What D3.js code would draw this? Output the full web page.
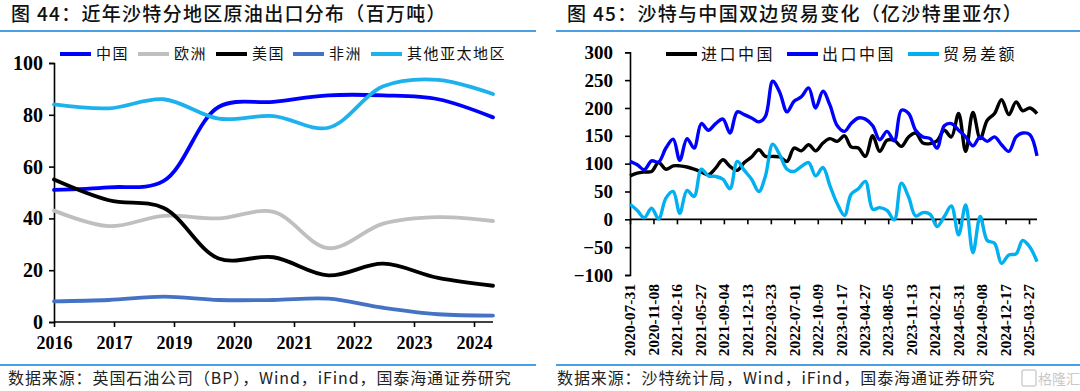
<!DOCTYPE html>
<html><head><meta charset="utf-8">
<script src="https://cdn.jsdelivr.net/npm/d3@7/dist/d3.min.js"></script>
<style>
html,body{margin:0;padding:0;background:#fff;}
svg{display:block;}
</style></head>
<body>
<svg id="c" width="1080" height="391"></svg>
<script>
// ---------- Left chart data ----------
const leftTitle = "图 44：近年沙特分地区原油出口分布（百万吨）";
const leftYears = ["2016","2017","2018","2019","2020","2021","2022","2023","2024"];
const leftTickLabels = ["2016","2017","2019","2020","2021","2022","2023","2024"];
const leftYTicks = [0,20,40,60,80,100];
const leftSeriesNames = ["中国","欧洲","美国","非洲","其他亚太地区"];
const chinaVals  = [51, 52, 54.5, 83, 85, 87.5, 87.5, 86, 79];
const europeVals = [43, 37, 41, 40, 42.5, 28.5, 38, 40.5, 39];
const usaVals    = [55, 47, 44, 24.5, 25, 18, 22.5, 17, 14];
const africaVals = [8, 8.5, 9.8, 8.5, 8.5, 9, 5.5, 3, 2.5];
const otherApacVals = [84, 82.5, 86, 78.5, 79.5, 75, 91, 93.5, 88];
const leftSource = "数据来源：英国石油公司（BP），Wind，iFind，国泰海通证券研究";

// ---------- Right chart data ----------
const rightTitle = "图 45：沙特与中国双边贸易变化（亿沙特里亚尔）";
const rightSeriesNames = ["进口中国","出口中国","贸易差额"];
const rightTickLabels = ["2020-07-31","2020-11-08","2021-02-16","2021-05-27","2021-09-04","2021-12-13",
  "2022-03-23","2022-07-01","2022-10-09","2023-01-17","2023-04-27","2023-08-05","2023-11-13",
  "2024-02-21","2024-05-31","2024-09-08","2024-12-17","2025-03-27"];
const rightYTicks = [-100,-50,0,50,100,150,200,250,300];
const rightStart = "2020-07-31";
const rightEnd = "2025-04-30";
const importChina = [78,83,85,86,102,90,96,96,94,90,85,80,92,107,95,88,102,112,125,113,113,112,104,128,123,134,123,137,145,140,150,130,128,113,150,122,142,142,131,148,155,137,136,141,160,148,190,122,192,145,178,190,215,188,211,195,200,190];
const exportChina = [104,98,89,105,103,128,144,106,145,128,172,160,172,180,155,193,188,182,175,185,248,228,193,212,220,236,200,230,205,168,158,172,182,180,168,143,158,141,196,190,160,148,145,128,168,172,160,148,132,148,140,148,134,122,148,155,152,114];
const tradeBalance = [27,16,3,20,1,38,50,11,52,41,90,78,77,72,55,104,88,72,50,78,135,116,90,86,95,102,78,93,60,28,7,45,55,68,18,21,16,-1,65,40,6,12,9,-13,5,24,-28,26,-60,5,-38,-43,-79,-64,-62,-38,-50,-76];
const rightSource = "数据来源：沙特统计局，Wind，iFind，国泰海通证券研究";

// ---------- styles ----------
const numFont = "'Liberation Serif','Times New Roman',serif";
const cjkFont = "'Noto Sans CJK SC','Noto Sans',sans-serif";
const accent = "#4A9FE3";
const leftColors = ["#0000FF","#BFBFBF","#000000","#4472C4","#1DB2EE"];
const rightColors = ["#000000","#0000FF","#00B0F0"];

const svg = d3.select("#c");
svg.append("rect").attr("width",1080).attr("height",391).attr("fill","#fff");

function header(x0, x1, title){
  svg.append("text").attr("x", x0+11).attr("y", 21)
    .attr("font-family", cjkFont).attr("font-size", 19).attr("font-weight", 500)
    .attr("fill","#111").attr("letter-spacing", 1.3).text(title);
  svg.append("line").attr("x1", x0).attr("x2", x1).attr("y1", 31).attr("y2", 31)
    .attr("stroke", accent).attr("stroke-width", 2);
  svg.append("line").attr("x1", x0).attr("x2", x1).attr("y1", 365).attr("y2", 365)
    .attr("stroke", accent).attr("stroke-width", 2);
}
header(0, 536, leftTitle);
header(556, 1080, rightTitle);

function source(x, txt){
  svg.append("text").attr("x", x).attr("y", 384)
    .attr("font-family", cjkFont).attr("font-size", 16).attr("fill","#222")
    .attr("letter-spacing", 0.9).text(txt);
}
source(8, leftSource);
source(557, rightSource);
svg.append("rect").attr("x",1022).attr("y",370).attr("width",14).attr("height",16).attr("rx",2)
  .attr("fill","none").attr("stroke","#cfcfcf").attr("stroke-width",1.5);
svg.append("text").attr("x", 1038).attr("y", 384).attr("font-family", cjkFont)
  .attr("font-size", 14).attr("fill","#c8c8c8").text("格隆汇");

// ---------- Left chart ----------
{
  const x = d3.scaleLinear().domain([0, leftYears.length-1]).range([54, 493]);
  const xt = d3.scalePoint().domain(leftTickLabels).range([54, 474]);
  const y = d3.scaleLinear().domain([0,100]).range([322, 63]);
  const g = svg.append("g");
  const ya = d3.axisLeft(y).tickValues(leftYTicks).tickSize(5).tickPadding(6).tickFormat(d3.format("d"));
  const yg = g.append("g").attr("transform","translate(54,0)").call(ya);
  yg.select(".domain").attr("stroke","#000").attr("stroke-width",1.6);
  yg.selectAll(".tick line").attr("stroke","#000").attr("stroke-width",1.6);
  yg.selectAll("text").attr("font-family",numFont).attr("font-weight","bold").attr("font-size",20).attr("fill","#000");
  const xa = d3.axisBottom(xt).tickSize(5).tickPadding(9);
  const xg = g.append("g").attr("transform","translate(0,322)").call(xa);
  xg.select(".domain").remove();
  g.append("line").attr("x1",54).attr("x2",493).attr("y1",322).attr("y2",322).attr("stroke","#000").attr("stroke-width",1.6);
  xg.selectAll(".tick line").attr("stroke","#000").attr("stroke-width",1.6);
  xg.selectAll("text").attr("font-family",numFont).attr("font-weight","bold").attr("font-size",18).attr("fill","#000");

  const series = [chinaVals, europeVals, usaVals, africaVals, otherApacVals];
  const line = d3.line().x((d,i)=>x(i)).y(d=>y(d)).curve(d3.curveCatmullRom.alpha(0.5));
  series.forEach((s,k)=>{
    g.append("path").attr("d", line(s)).attr("fill","none")
      .attr("stroke", leftColors[k]).attr("stroke-width",3.8).attr("stroke-linecap","round");
  });
  const lx = [60, 138, 216, 293, 371];
  leftSeriesNames.forEach((n,k)=>{
    g.append("line").attr("x1",lx[k]).attr("x2",lx[k]+31).attr("y1",54).attr("y2",54)
      .attr("stroke",leftColors[k]).attr("stroke-width",4);
    g.append("text").attr("x",lx[k]+36).attr("y",54).attr("dy","0.36em")
      .attr("font-family",cjkFont).attr("font-size",15).attr("letter-spacing",1.5)
      .attr("fill","#111").text(n);
  });
}

// ---------- Right chart ----------
{
  const parse = d3.timeParse("%Y-%m-%d");
  const x = d3.scaleTime().domain([parse(rightStart), parse(rightEnd)]).range([630, 1037]);
  const y = d3.scaleLinear().domain([-100,300]).range([275, 52.3]);
  const dates = d3.range(importChina.length).map(i => d3.timeDay.offset(d3.timeMonth.offset(new Date(2020, 7, 1), i), -1));
  const g = svg.append("g");
  const ya = d3.axisLeft(y).tickValues(rightYTicks).tickSize(5).tickPadding(12).tickFormat(d3.format("d"));
  const yg = g.append("g").attr("transform","translate(630,0)").call(ya);
  yg.select(".domain").attr("stroke","#000").attr("stroke-width",1.6);
  yg.selectAll(".tick line").attr("stroke","#000").attr("stroke-width",1.6);
  yg.selectAll("text").attr("font-family",numFont).attr("font-weight","bold").attr("font-size",19).attr("fill","#000");
  const tickDates = rightTickLabels.map(parse);
  const xa = d3.axisBottom(x).tickValues(tickDates).tickSize(5).tickFormat("");
  const xg = g.append("g").attr("transform",`translate(0,${y(0)})`).call(xa);
  xg.select(".domain").remove();
  g.append("line").attr("x1",630).attr("x2",1037).attr("y1",y(0)).attr("y2",y(0)).attr("stroke","#000").attr("stroke-width",1.6);
  xg.selectAll(".tick line").attr("stroke","#000").attr("stroke-width",1.6);
  g.selectAll(".xl").data(rightTickLabels).enter().append("text")
    .attr("transform", d => `translate(${x(parse(d))},284) rotate(-90)`)
    .attr("text-anchor","end").attr("dy","0.34em")
    .attr("font-family",numFont).attr("font-weight","bold").attr("font-size",15.5).attr("fill","#000")
    .text(d=>d);

  const series = [importChina, exportChina, tradeBalance];
  const line = d3.line().x((d,i)=>x(dates[i])).y(d=>y(d)).curve(d3.curveCatmullRom.alpha(0.5));
  series.forEach((s,k)=>{
    g.append("path").attr("d", line(s)).attr("fill","none")
      .attr("stroke", rightColors[k]).attr("stroke-width",3.4).attr("stroke-linejoin","round");
  });
  const lx = [666, 787, 908];
  rightSeriesNames.forEach((n,k)=>{
    g.append("line").attr("x1",lx[k]).attr("x2",lx[k]+31).attr("y1",54).attr("y2",54)
      .attr("stroke",rightColors[k]).attr("stroke-width",4);
    g.append("text").attr("x",lx[k]+35).attr("y",54).attr("dy","0.36em")
      .attr("font-family",cjkFont).attr("font-size",16).attr("letter-spacing",2.5)
      .attr("fill","#111").text(n);
  });
}
</script>
</body></html>
